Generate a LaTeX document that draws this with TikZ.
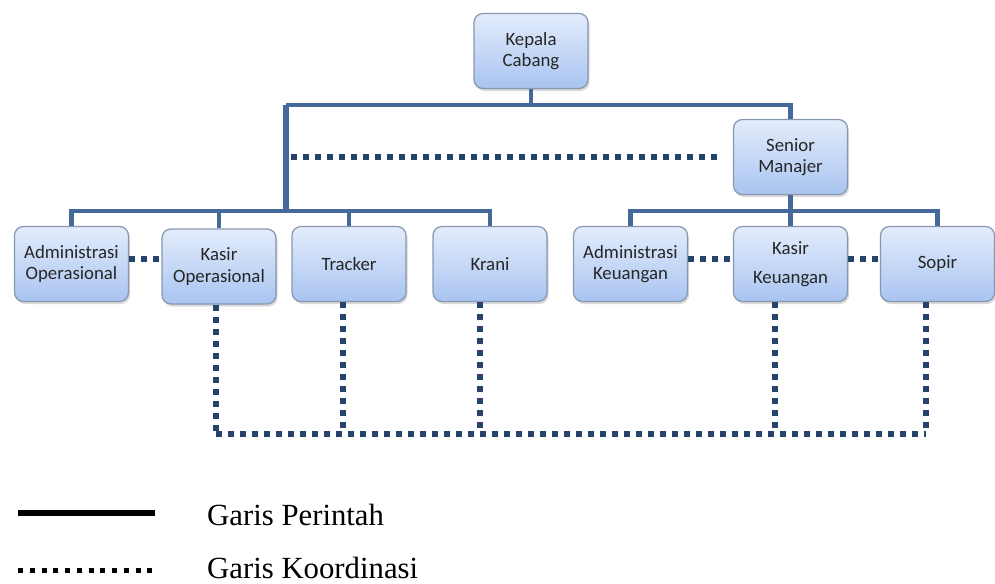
\documentclass[tikz,border=0pt]{standalone}
\usepackage{fontspec}
\setmainfont{Liberation Serif}
\newfontfamily\boxfont{Carlito}
\usetikzlibrary{shadows}
\definecolor{boxtop}{HTML}{E3ECFB}
\definecolor{boxbot}{HTML}{A9C4F1}
\definecolor{boxline}{HTML}{8797B0}
\definecolor{cmdline}{HTML}{46699B}
\definecolor{dotline}{HTML}{26436B}
\begin{document}
\begin{tikzpicture}[
        jabatan/.style={draw=boxline,line width=0.7pt,rounded corners=0.18cm,
            top color=boxtop,bottom color=boxbot,text=black!85,
            minimum width=2.28cm,minimum height=1.5cm,align=center,
            font=\boxfont\fontsize{10.7}{12}\selectfont,
            drop shadow={opacity=0.3,shadow xshift=0.03cm,shadow yshift=-0.05cm}},
        perintah/.style={draw=cmdline,line width=2.4pt},
        koordinasi/.style={draw=dotline,line width=0.11cm,dash pattern=on 0.12cm off 0.12cm},
        keterangan/.style={anchor=base west,font=\fontsize{17.5}{20}\selectfont}]
            \useasboundingbox (0,0) rectangle (19.9,-11.66);

            \node[jabatan] (kc) at (10.62,-1.02){Kepala\\Cabang};
            \node[jabatan] (sm) at (15.81,-3.14){Senior\\Manajer};
            \node[jabatan] (ao) at (1.43,-5.28){Administrasi\\Operasional};
            \node[jabatan] (ko) at (4.38,-5.33){Kasir\\Operasional};
            \node[jabatan] (tr) at (6.98,-5.28){Tracker};
            \node[jabatan] (kr) at (9.8,-5.28){Krani};
            \node[jabatan] (ak) at (12.61,-5.28){Administrasi\\Keuangan};
            \node[jabatan] (kk) at (15.81,-5.28){Kasir\\[0.15cm]Keuangan};
            \node[jabatan] (sp) at (18.75,-5.28){Sopir};

            \coordinate (atas) at (5.72,-2.1);
            \coordinate (kiri) at (5.72,-4.22);
            \coordinate (kanan) at (15.81,-4.22);
            \coordinate (bawah) at (4.32,-8.68);

            % garis perintah
            \draw[perintah] (kc) -- (kc |- atas);
            \draw[perintah] (sm) |- (atas);
            \draw[perintah,line width=2.9pt] (atas) -- (kiri);
            \draw[perintah] (ao) |- (kiri) -| (kr);
            \draw[perintah] (ko) -- (ko |- kiri);
            \draw[perintah] (tr) -- (tr |- kiri);
            \draw[perintah] (ak) |- (kanan) -| (sp);
            \draw[perintah] (sm) -- (kk);

            % garis koordinasi
            \draw[koordinasi] ([xshift=0.1cm]atas |- sm.west) -- ([xshift=-0.22cm]sm.west);
            \draw[koordinasi] ([yshift=0.1cm]ao.east) -- ([yshift=0.1cm]ao.east -| ko.west);
            \draw[koordinasi] ([yshift=0.1cm]ak.east) -- ([yshift=0.1cm]ak.east -| kk.west);
            \draw[koordinasi] ([yshift=0.1cm]kk.east) -- ([yshift=0.1cm]kk.east -| sp.west);
            \foreach \n/\dx in {ko/-0.06,tr/-0.12,kr/-0.2,kk/-0.31,sp/-0.23}
                \draw[koordinasi] ([xshift=\dx cm]\n.south) -- ([xshift=\dx cm]\n.south |- bawah);
            \draw[koordinasi] (bawah) -- ([xshift=-0.23cm]sp.south |- bawah);

            % keterangan
            \node[keterangan] (lp) at (4.02,-10.5){Garis Perintah};
            \node[keterangan] (lk) at (4.02,-11.56){Garis Koordinasi};
            \draw[black,line width=0.12cm] (0.36,-10.26) -- (3.1,-10.26);
            \draw[black,line width=0.1cm,dash pattern=on 0.1cm off 0.135cm] (0.36,-11.4) -- (3.1,-11.4);
        \end{tikzpicture}
\end{document}
